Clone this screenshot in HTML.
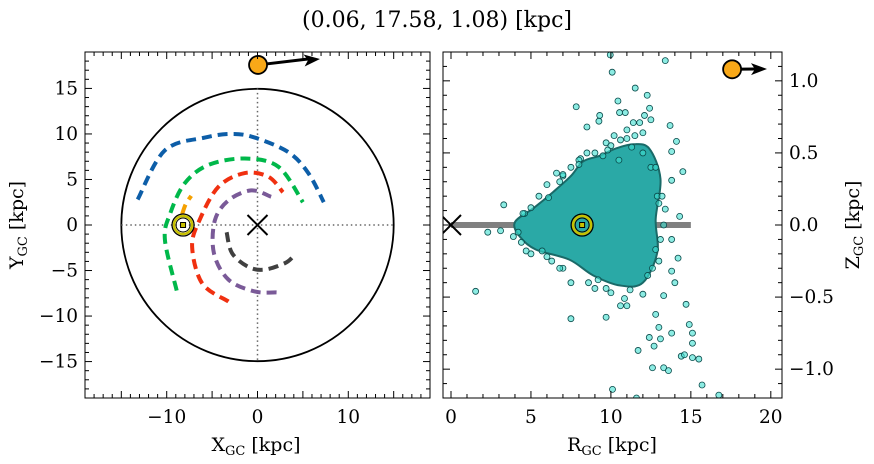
<!DOCTYPE html>
<html><head><meta charset="utf-8"><style>
body{margin:0;background:#fff;}
svg{display:block;font-family:"DejaVu Serif","Liberation Serif",serif;}
</style></head><body>
<svg id="c" width="874" height="464" viewBox="0 0 874 464">
<text x="437" y="27" text-anchor="middle" font-size="22">(0.06, 17.58, 1.08) [kpc]</text>
</svg>
<script>
// ---- data ----
const blueArc=[[-13.2,2.8],[-10.2,8.2],[-5.8,9.6],[-2.8,10.0],[-0.3,9.6],[3.4,8.0],[5.6,5.7],[7.3,2.5]];
const greenArc=[[-8.9,-7.2],[-10.2,-1.6],[-9.6,1.3],[-8.0,4.6],[-5.4,6.6],[-1.4,7.3],[2.3,6.4],[5.0,2.5]];
const orangeArc=[[-8.3,1.2],[-7.9,2.3],[-7.3,3.2]];
const redArc=[[-3.2,-8.4],[-6.1,-6.4],[-7.2,-2.4],[-6.4,0.5],[-4.3,4.2],[-1.4,5.7],[1.2,5.3],[2.8,3.6]];
const purpleArc=[[2.1,-7.4],[-0.3,-7.3],[-3.2,-6.0],[-4.8,-3.1],[-4.7,0.5],[-3.2,2.7],[-0.7,3.8],[1.5,3.1]];
const grayArc=[[-3.4,-0.8],[-2.8,-3.1],[-1.0,-4.6],[0.8,-4.9],[3.0,-4.2],[3.9,-3.5]];
const sunPos=[-8.2,0];
const objXY=[0.06,17.58];
const objRZ=[17.58,1.08];
const coreR=[4.0,5.2,6.4,7.5,8.25,9.3,10.3,11.4,12.4,13.1,12.8,12.9,12.0,10.6,8.9,7.4,5.3,4.3];
const coreZ=[0.02,0.12,0.23,0.34,0.44,0.48,0.53,0.56,0.53,0.32,0.04,-0.19,-0.40,-0.42,-0.35,-0.24,-0.17,-0.08];
const starR=[9.96,13.4,10.08,11.52,12.27,10.44,7.83,12.42,10.54,10.9,12.1,9.3,9.25,12.5,8.5,11.4,11.8,13.7,11.0,12.0,10.2,10.6,14.1,9.7,11.3,13.8,8.1,6.6,7.0,14.5,13.8,13.4,14.3,3.3,6.1,2.3,3.1,3.9,4.7,5.7,13.8,12.8,14.2,13.8,14.0,7.5,9.0,9.7,12.0,13.3,10.85,11.0,10.6,1.54,14.7,12.8,7.5,9.7,13.0,14.9,13.8,15.1,12.4,13.1,15.1,12.7,11.7,14.4,14.6,15.1,15.5,12.6,13.3,13.6,15.7,10.1,16.75,11.6,
 5.0,5.5,6.0,7.0,7.5,8.0,9.0,10.0,11.0,12.0,12.5,11.5,10.5,9.5,8.5,7.0,6.0,4.6,4.4,12.9,13.0,12.3,6.8,9.2,
 13.2,13.3,13.1,12.6,11.2,10.0,8.6,6.3,5.0,4.2,4.5,6.8,8.0,9.8,12.8,13.0];
const starZ=[1.18,1.14,1.06,0.95,0.90,0.86,0.82,0.81,0.78,0.78,0.76,0.76,0.72,0.73,0.68,0.71,0.71,0.69,0.66,0.64,0.62,0.59,0.58,0.57,0.54,0.51,0.46,0.36,0.34,0.37,0.31,0.11,0.06,0.14,0.19,-0.05,-0.04,-0.08,-0.18,-0.18,-0.10,-0.17,-0.23,-0.32,-0.40,-0.40,-0.44,-0.44,-0.48,-0.49,-0.51,-0.56,-0.56,-0.46,-0.55,-0.62,-0.65,-0.64,-0.71,-0.69,-0.75,-0.75,-0.78,-0.79,-0.82,-0.84,-0.87,-0.91,-0.90,-0.92,-0.93,-0.99,-0.99,-1.01,-1.11,-1.14,-1.18,-1.2,
 0.12,0.2,0.28,0.35,0.4,0.45,0.5,0.55,0.6,0.5,0.4,0.62,0.45,0.48,0.5,-0.3,-0.22,0.08,-0.12,0.2,-0.25,-0.35,-0.3,-0.38,
 0.2,0.0,-0.1,-0.3,-0.45,-0.47,-0.4,-0.25,-0.2,-0.05,0.08,0.3,0.42,0.52,0.4,0.15];
const leftTicks=[-10,0,10];
const leftYTicks=[15,10,5,0,-5,-10,-15];
const rightXTicks=[0,5,10,15,20];
const rightYTicks=[1.0,0.5,0.0,-0.5,-1.0];

// ---- axes ----
const NS='http://www.w3.org/2000/svg';
const svg=document.getElementById('c');
function el(t,a,p){const e=document.createElementNS(NS,t);for(const k in a)e.setAttribute(k,a[k]);(p||svg).appendChild(e);return e;}
const L={x0:85,x1:430,y0:52,y1:398,xmin:-19,xmax:19,ymin:-19,ymax:19};
const R={x0:443,x1:782,y0:52,y1:398,xmin:-0.5,xmax:20.7,ymin:-1.2,ymax:1.2};
const lx=v=>L.x0+(v-L.xmin)/(L.xmax-L.xmin)*(L.x1-L.x0);
const ly=v=>L.y1-(v-L.ymin)/(L.ymax-L.ymin)*(L.y1-L.y0);
const rx=v=>R.x0+(v-R.xmin)/(R.xmax-R.xmin)*(R.x1-R.x0);
const ry=v=>R.y1-(v-R.ymin)/(R.ymax-R.ymin)*(R.y1-R.y0);
const fmt=v=>(v<0?'\u2212':'')+Math.abs(v);
const fmt1=v=>(v<0?'\u2212':'')+Math.abs(v).toFixed(1);
function smooth(P,closed){
  const n=P.length;let d='M'+P[0][0]+','+P[0][1];
  const get=i=>closed?P[(i+n)%n]:P[Math.max(0,Math.min(n-1,i))];
  const m=closed?n:n-1;
  for(let i=0;i<m;i++){const p0=get(i-1),p1=get(i),p2=get(i+1),p3=get(i+2);
    d+=`C${p1[0]+(p2[0]-p0[0])/6},${p1[1]+(p2[1]-p0[1])/6} ${p2[0]-(p3[0]-p1[0])/6},${p2[1]-(p3[1]-p1[1])/6} ${p2[0]},${p2[1]}`;}
  return d+(closed?'Z':'');
}
function ticks(P,fx,fy,xmaj,xmin,ymaj,ymin){
  const g=el('g',{stroke:'#000','stroke-width':1});
  
  for(let v=Math.ceil(P.xmin/xmin)*xmin;v<=P.xmax+1e-9;v+=xmin){const X=fx(v);const maj=Math.abs(v/xmaj-Math.round(v/xmaj))<1e-6;const s=maj?7:4;
    el('line',{x1:X,x2:X,y1:P.y1,y2:P.y1-s},g);el('line',{x1:X,x2:X,y1:P.y0,y2:P.y0+s},g);}
  for(let v=Math.ceil(P.ymin/ymin)*ymin;v<=P.ymax+1e-9;v+=ymin){const Y=fy(v);const maj=Math.abs(v/ymaj-Math.round(v/ymaj))<1e-6;const s=maj?7:4;
    el('line',{y1:Y,y2:Y,x1:P.x0,x2:P.x0+s},g);el('line',{y1:Y,y2:Y,x1:P.x1,x2:P.x1-s},g);}
}
const clipL=el('clipPath',{id:'cl'});el('rect',{x:L.x0,y:L.y0,width:L.x1-L.x0,height:L.y1-L.y0},clipL);
const clipR=el('clipPath',{id:'cr'});el('rect',{x:R.x0,y:R.y0,width:R.x1-R.x0,height:R.y1-R.y0},clipR);
const gl=el('g',{'clip-path':'url(#cl)'});
let c=el('circle',{cx:lx(0),cy:ly(0),r:lx(15)-lx(0),fill:'none',stroke:'#000','stroke-width':1.8},gl);

let d=el('line',{x1:lx(0),x2:lx(0),y1:ly(15),y2:ly(-15),stroke:'#666','stroke-width':1.5,'stroke-dasharray':'1.5 3'},gl);

d=el('line',{x1:lx(-15),x2:lx(15),y1:ly(0),y2:ly(0),stroke:'#666','stroke-width':1.5,'stroke-dasharray':'1.5 3'},gl);

function arc(pts,col,name){const p=el('path',{d:smooth(pts.map(q=>[lx(q[0]),ly(q[1])]),false),fill:'none',stroke:col,'stroke-width':4,'stroke-dasharray':'10 6'},gl);
  }
arc(blueArc,'#0d5ea8','spiral-arm-blue');
arc(greenArc,'#00b84a','spiral-arm-green');
arc(redArc,'#f03010','spiral-arm-red');
arc(purpleArc,'#7a5a98','spiral-arm-purple');
arc(grayArc,'#404040','spiral-arm-gray');
arc(orangeArc,'#f5a000','spiral-arm-orange');
function cross(x,y,s,g,name){const p=el('path',{d:`M${x-s},${y-s}L${x+s},${y+s}M${x-s},${y+s}L${x+s},${y-s}`,stroke:'#000','stroke-width':2,fill:'none'},g);}
cross(lx(0),ly(0),10,gl,'galactic-center-marker');
function sun(x,y,g){const s=el('g',{},g);
  el('circle',{cx:x,cy:y,r:11,fill:'none',stroke:'#000','stroke-width':1.3},s);
  el('circle',{cx:x,cy:y,r:9,fill:'none',stroke:'#c8c000','stroke-width':2.5},s);
  el('circle',{cx:x,cy:y,r:7,fill:'none',stroke:'#000','stroke-width':1},s);
  el('rect',{x:x-2.5,y:y-2.5,width:5,height:5,fill:'#c8c000',stroke:'#000','stroke-width':1},s);}
sun(lx(sunPos[0]),ly(sunPos[1]),gl);
function obj(x,y,x2,y2,name){const g=el('g',{});
  el('line',{x1:x,y1:y,x2:x2-12,y2:y2,stroke:'#000','stroke-width':3},g);
  el('path',{d:`M${x2},${y2}L${x2-16},${y2-6}L${x2-12},${y2}L${x2-16},${y2+6}Z`,fill:'#000',transform:`rotate(${Math.atan2(y2-y,x2-x)*180/Math.PI} ${x2} ${y2})`},g);
  el('circle',{cx:x,cy:y,r:9,fill:'#f8a818',stroke:'#000','stroke-width':1.8},g);}
obj(lx(objXY[0]),ly(objXY[1]),320,59,'object-position-xy');
el('rect',{x:L.x0,y:L.y0,width:L.x1-L.x0,height:L.y1-L.y0,fill:'none',stroke:'#000','stroke-width':1});
ticks(L,lx,ly,5,1,5,1);
leftTicks.forEach(v=>{const t=el('text',{x:lx(v),y:423,'text-anchor':'middle','font-size':18.5});t.textContent=fmt(v);});
leftYTicks.forEach(v=>{const t=el('text',{x:78,y:ly(v)+6,'text-anchor':'end','font-size':18.5});t.textContent=fmt(v);});
let t=el('text',{x:256,y:451,'text-anchor':'middle','font-size':19});t.innerHTML='X<tspan font-size="13" dy="4">GC</tspan><tspan dy="-4"> [kpc]</tspan>';
t=el('text',{x:0,y:0,'text-anchor':'middle','font-size':19,transform:'translate(23,225) rotate(-90)'});t.innerHTML='Y<tspan font-size="13" dy="4">GC</tspan><tspan dy="-4"> [kpc]</tspan>';

const gr=el('g',{'clip-path':'url(#cr)'});
d=el('line',{x1:rx(0),x2:rx(15),y1:ry(0),y2:ry(0),stroke:'#808080','stroke-width':6},gr);
d=el('path',{d:smooth(coreR.map((v,i)=>[rx(v),ry(coreZ[i])]),true),fill:'#2aa9a6',stroke:'#1a6a68','stroke-width':2},gr);

starR.forEach((v,i)=>{const p=el('circle',{cx:rx(v),cy:ry(starZ[i]),r:3,fill:'rgba(64,224,208,0.6)',stroke:'#0a4a4a','stroke-width':0.8},gr);
  });
cross(rx(0),ry(0),10,gr,'galactic-center-marker-rz');
sun(rx(8.2),ry(0),gr);
obj(rx(objRZ[0]),ry(objRZ[1]),767,69,'object-position-rz');
el('rect',{x:R.x0,y:R.y0,width:R.x1-R.x0,height:R.y1-R.y0,fill:'none',stroke:'#000','stroke-width':1});
ticks(R,rx,ry,5,1,0.5,0.1);
rightXTicks.forEach(v=>{const t=el('text',{x:rx(v),y:423,'text-anchor':'middle','font-size':18.5});t.textContent=fmt(v);});
rightYTicks.forEach(v=>{const t=el('text',{x:789,y:ry(v)+6,'text-anchor':'start','font-size':18.5});t.textContent=fmt1(v);});
t=el('text',{x:612,y:451,'text-anchor':'middle','font-size':19});t.innerHTML='R<tspan font-size="13" dy="4">GC</tspan><tspan dy="-4"> [kpc]</tspan>';
t=el('text',{x:0,y:0,'text-anchor':'middle','font-size':19,transform:'translate(859,225) rotate(-90)'});t.innerHTML='Z<tspan font-size="13" dy="4">GC</tspan><tspan dy="-4"> [kpc]</tspan>';
</script>
</body></html>
